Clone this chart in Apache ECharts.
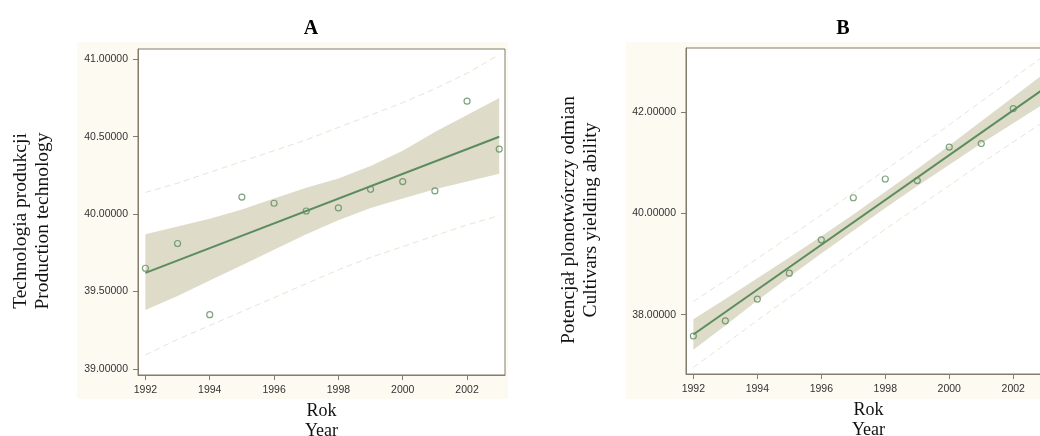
<!DOCTYPE html>
<html>
<head>
<meta charset="utf-8">
<script src="https://cdn.jsdelivr.net/npm/echarts@6/dist/echarts.min.js"></script>
<style>
  html, body { margin: 0; padding: 0; background: #fff; }
  #chart { width: 1040px; height: 436px; }
</style>
</head>
<body>
<div id="chart"></div>
<script>
// lata / years
var years = [1992, 1993, 1994, 1995, 1996, 1997, 1998, 1999, 2000, 2001, 2002, 2003];
var xTicks = [1992, 1994, 1996, 1998, 2000, 2002];

// A - Technologia produkcji
var ptsA = [39.65, 39.81, 39.35, 40.11, 40.07, 40.02, 40.04, 40.16, 40.21, 40.15, 40.73, 40.42];
var fitA = [39.62, 40.50];          // linia regresji 1992 -> 2003
var ciLowA = [39.38, 39.47, 39.57, 39.67, 39.77, 39.87, 39.96, 40.04, 40.10, 40.16, 40.21, 40.26];
var ciUpA = [39.87, 39.92, 39.97, 40.03, 40.10, 40.17, 40.23, 40.31, 40.41, 40.53, 40.64, 40.75];
var piLowA = [39.09, 39.19, 39.28, 39.37, 39.46, 39.55, 39.64, 39.72, 39.79, 39.86, 39.93, 39.99];
var piUpA = [40.14, 40.20, 40.27, 40.34, 40.41, 40.48, 40.56, 40.64, 40.72, 40.81, 40.91, 41.03];
var yTicksA = [39, 39.5, 40, 40.5, 41];

// B - Potencjał plonotwórczy odmian (2003 poza kadrem)
var ptsB = [37.58, 37.88, 38.31, 38.82, 39.48, 40.31, 40.68, 40.65, 41.31, 41.38, 42.07];
var fitB = [37.61, 42.48];
var ciLowB = [37.31, 37.79, 38.28, 38.75, 39.21, 39.66, 40.11, 40.54, 40.96, 41.38, 41.78, 42.18];
var ciUpB = [37.91, 38.31, 38.72, 39.13, 39.55, 39.98, 40.43, 40.88, 41.34, 41.82, 42.30, 42.78];
var piLowB = [36.96, 37.42, 37.89, 38.34, 38.79, 39.24, 39.69, 40.12, 40.55, 40.99, 41.41, 41.83];
var piUpB = [38.26, 38.68, 39.11, 39.54, 39.97, 40.41, 40.86, 41.30, 41.75, 42.21, 42.67, 43.13];
var yTicksB = [38, 40, 42];

var GREEN = '#5b8c5e';
var BAND = '#dedbc8';
var DASH = '#e8e4d3';
var FRAME = '#837c6d';
var SERIF = '"Liberation Serif", "DejaVu Serif", serif';
var SANS = '"Liberation Sans", Arial, sans-serif';

function pairs(xs, ys) {
    return ys.map(function (y, i) { return [xs[i], y]; });
}

function xAxisFor(g) {
    return {
        type: 'value', gridIndex: g, min: 1991.77, max: 2003.18,
        name: 'Rok\nYear', nameLocation: 'middle', nameGap: 26,
        nameTextStyle: { fontFamily: SERIF, fontSize: 18, lineHeight: 20, color: '#111' },
        axisLine: { show: true, lineStyle: { color: FRAME, width: 1 } },
        axisTick: { show: true, length: 5, customValues: xTicks, lineStyle: { color: FRAME } },
        axisLabel: {
            customValues: xTicks, margin: 10, fontFamily: SANS, fontSize: 10.5, color: '#333',
            formatter: function (v) { return String(v); }
        },
        splitLine: { show: false }
    };
}
function yAxisFor(g, min, max, ticks, name, shift) {
    return {
        type: 'value', gridIndex: g, min: min, max: max,
        name: name, nameLocation: 'middle', nameGap: 84, nameRotate: 90,
        nameTextStyle: { fontFamily: SERIF, fontSize: 19.5, lineHeight: 22, color: '#111', padding: [0, shift, 0, 0] },
        axisLine: { show: true, lineStyle: { color: FRAME, width: 1 } },
        axisTick: { show: true, length: 5, customValues: ticks, lineStyle: { color: FRAME } },
        axisLabel: {
            customValues: ticks, margin: 10, fontFamily: SANS, fontSize: 10.5, color: '#333',
            formatter: function (v) { return v.toFixed(5); }
        },
        splitLine: { show: false }
    };
}

// pas ufności jako jeden wielokąt, liczony przez skale osi
function bandSeries(g, low, up) {
    return {
        type: 'custom', xAxisIndex: g, yAxisIndex: g, silent: true, animation: false, clip: true, z: 1,
        data: pairs(years, low),
        renderItem: function (params, api) {
            if (params.dataIndex !== 0) return null;
            var pts = [];
            for (var i = 0; i < years.length; i++) pts.push(api.coord([years[i], low[i]]));
            for (var j = years.length - 1; j >= 0; j--) pts.push(api.coord([years[j], up[j]]));
            return { type: 'polygon', shape: { points: pts }, style: { fill: BAND, stroke: null } };
        }
    };
}

function panelSeries(g, pts, fit, ciLow, ciUp, piLow, piUp) {
    var base = { xAxisIndex: g, yAxisIndex: g, showSymbol: false, silent: true, animation: false, z: 2 };
    return [
        bandSeries(g, ciLow, ciUp),
        Object.assign({}, base, {
            type: 'line', data: pairs(years, piUp),
            lineStyle: { color: DASH, width: 1, type: [6, 4] }
        }),
        Object.assign({}, base, {
            type: 'line', data: pairs(years, piLow),
            lineStyle: { color: DASH, width: 1, type: [6, 4] }
        }),
        Object.assign({}, base, {
            type: 'line', data: pairs([1992, 2003], fit), z: 3,
            lineStyle: { color: GREEN, width: 2 }
        }),
        {
            type: 'scatter', xAxisIndex: g, yAxisIndex: g, animation: false, z: 4,
            data: pairs(years, pts), symbol: 'circle', symbolSize: 6,
            itemStyle: { color: 'rgba(255,255,255,0)', borderColor: GREEN, borderWidth: 1.2 }
        }
    ];
}

var chart = echarts.init(document.getElementById('chart'), null, { renderer: 'canvas' });

var option = {
    backgroundColor: '#ffffff',
    animation: false,
    graphic: [
        { type: 'rect', z: -10, shape: { x: 77, y: 42, width: 431, height: 357 }, style: { fill: '#fdfaf2' } },
        { type: 'rect', z: -10, shape: { x: 626, y: 42, width: 420, height: 357 }, style: { fill: '#fdfaf2' } }
    ],
    title: [
        { text: 'A', left: 306, top: 14, textAlign: 'center',
          textStyle: { fontFamily: SERIF, fontSize: 20, fontWeight: 'bold', color: '#000' } },
        { text: 'B', left: 838, top: 14, textAlign: 'center',
          textStyle: { fontFamily: SERIF, fontSize: 20, fontWeight: 'bold', color: '#000' } }
    ],
    grid: [
        { left: 138, top: 49, width: 367, height: 326, outerBoundsMode: 'none', containLabel: false,
          show: true, backgroundColor: '#fff', borderColor: FRAME, borderWidth: 1 },
        { left: 686, top: 48, width: 365, height: 326, outerBoundsMode: 'none', containLabel: false,
          show: true, backgroundColor: '#fff', borderColor: FRAME, borderWidth: 1 }
    ],
    xAxis: [xAxisFor(0), xAxisFor(1)],
    yAxis: [
        yAxisFor(0, 38.96, 41.067, yTicksA, 'Technologia produkcji\nProduction technology', 18),
        yAxisFor(1, 36.83, 43.267, yTicksB, 'Potencjał plonotwórczy odmian\nCultivars yielding ability', 18)
    ],
    series: [].concat(
        panelSeries(0, ptsA, fitA, ciLowA, ciUpA, piLowA, piUpA),
        panelSeries(1, ptsB, fitB, ciLowB, ciUpB, piLowB, piUpB)
    )
};

chart.setOption(option);
</script>
</body>
</html>
